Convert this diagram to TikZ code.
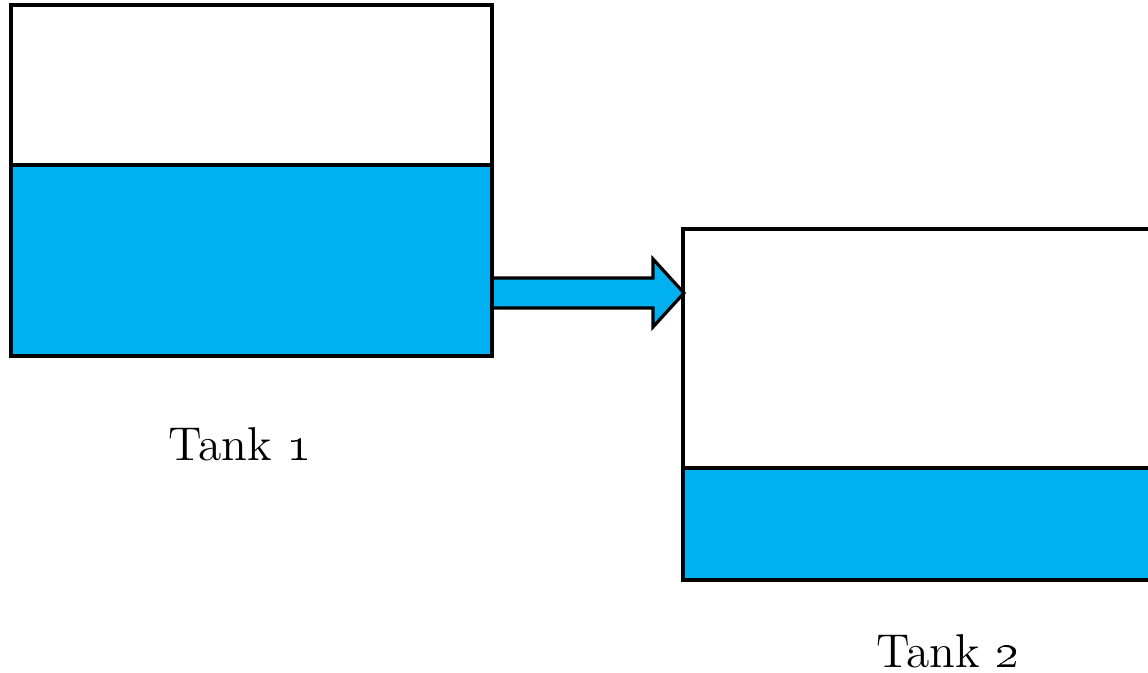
\documentclass[tikz,border=0pt]{standalone}
\usetikzlibrary{calc}
\definecolor{water}{HTML}{00B0F0}
\begin{document}
\begin{tikzpicture}[x=0.01cm,y=-0.01cm,
  wall/.style={draw=black,line width=0.9pt},
  liquid/.style={fill=water},
  caption/.style={anchor=base,inner sep=0pt,font=\fontsize{13.5}{16}\selectfont}]
% canvas
\fill[white] (0,0) rectangle (1148,672);
\useasboundingbox (0,0) rectangle (1148,672);
\clip (0,0) rectangle (1148,672);

% tank 1
\coordinate (t1nw) at (11,5);
\coordinate (t1se) at (492,356);
\fill[liquid] (11,165) rectangle (t1se);
\draw[wall] (t1nw) rectangle (t1se);
\draw[wall] (11,165) -- (492,165);

% tank 2 (runs off the right edge)
\coordinate (t2nw) at (683,229);
\coordinate (t2se) at (1170,580);
\fill[liquid] (683,468) rectangle (t2se);
\draw[wall] (t2nw) rectangle (t2se);
\draw[wall] (683,468) -- (1170,468);

% transfer arrow between the tanks
\filldraw[liquid,wall,line join=miter]
  (492,278) -- (653,278) -- (653,259) -- (684,293) -- (653,327) -- (653,308) -- (492,308);
\draw[wall] (492,250) -- (492,340);

% labels
\node[caption] (l1) at (240,460) {Tank \oldstylenums{1}};
\node[caption] (l2) at (948,667) {Tank \oldstylenums{2}};
\end{tikzpicture}
\end{document}
